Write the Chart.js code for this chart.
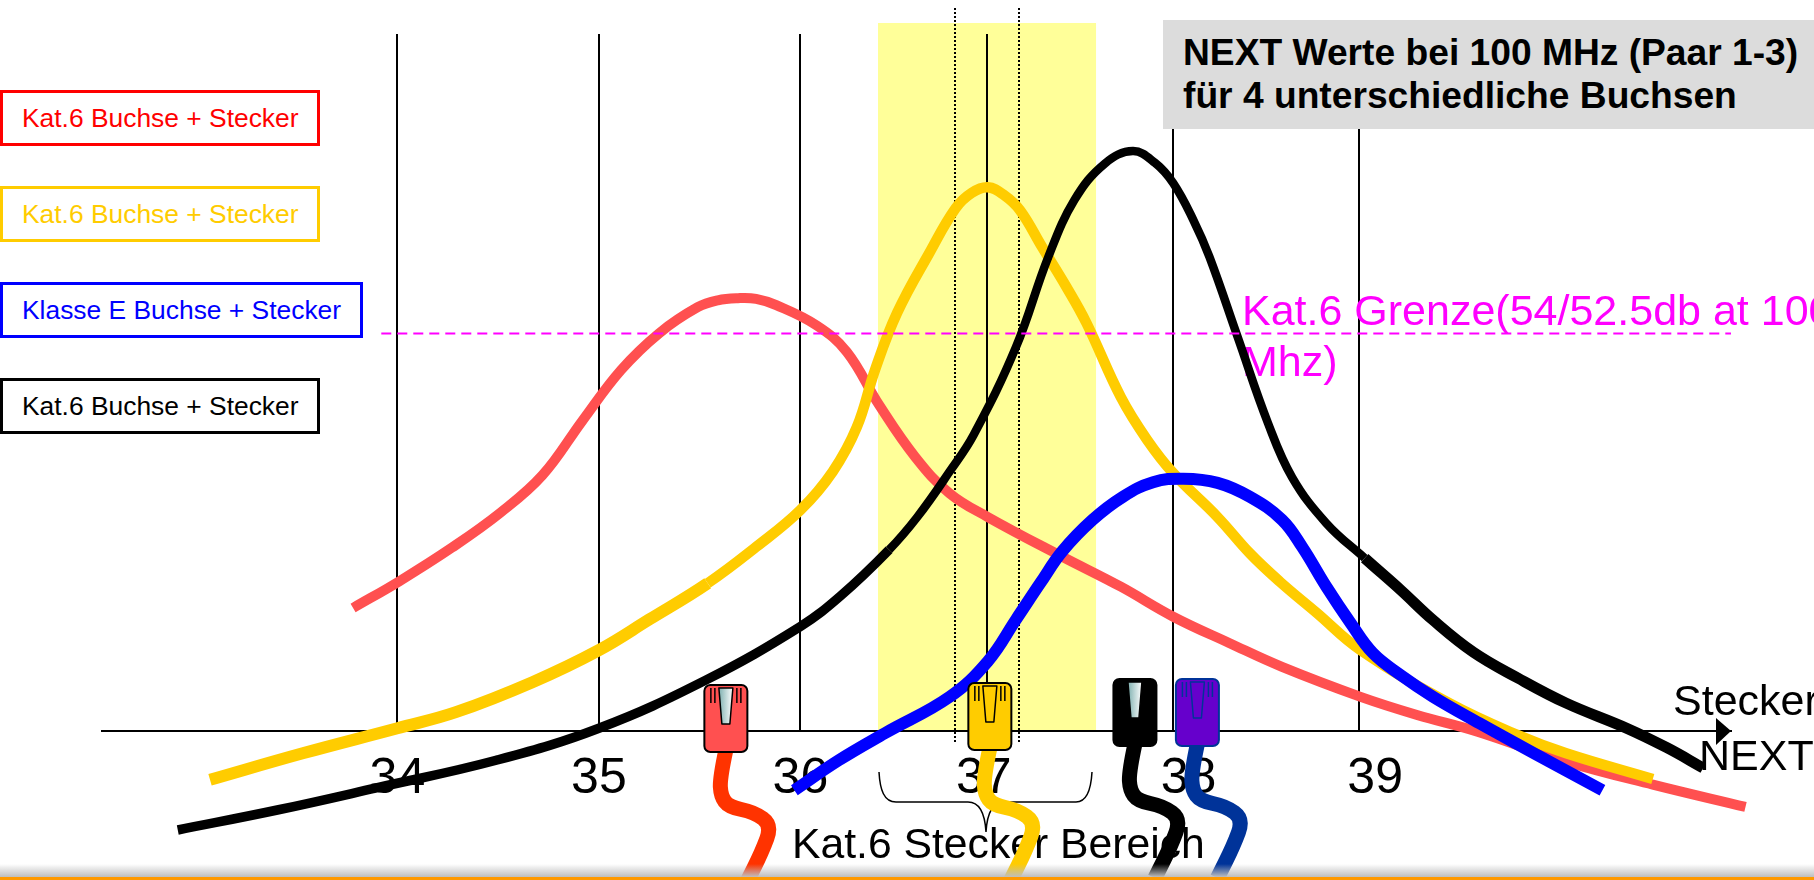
<!DOCTYPE html>
<html lang="de">
<head>
<meta charset="utf-8">
<title>NEXT Werte</title>
<script src="https://cdn.jsdelivr.net/npm/chart.js@4"></script>
<style>
  html, body { margin: 0; padding: 0; background: #fff; overflow: hidden; }
  #wrap { position: relative; width: 1814px; height: 880px; overflow: hidden; font-family: "Liberation Sans", Arial, sans-serif; }
  #myChart { position: absolute; left: 0; top: 0; }
  .legend-box { position: absolute; left: 0; height: 56px; box-sizing: border-box; border: 3px solid; padding-left: 19px; display: flex; align-items: center; font-size: 26.4px; background: #fff; white-space: nowrap; }
  #title-box { position: absolute; left: 1163px; top: 20px; width: 651px; height: 109px; box-sizing: border-box; background: #dcdcdc; padding: 11px 0 0 20px; font-weight: bold; font-size: 37.2px; line-height: 43px; color: #000; white-space: nowrap; }
</style>
</head>
<body>
<div id="wrap">
  <canvas id="myChart" width="1814" height="880"></canvas>
  <div id="title-box">NEXT Werte bei 100 MHz (Paar 1-3)<br>für 4 unterschiedliche Buchsen</div>
</div>
<script>
// tick labels + where they sit on the axis (the original slide is not evenly spaced)
const tickLabels = ["34", "35", "36", "37", "38", "39"];
const tickLabelValues = [34, 35, 36, 36.91, 37.926, 38.852];
const gridValues = [34, 35, 36, 36.926, 37.849, 38.772];

const seriesNames = ["Kat.6 Buchse + Stecker", "Kat.6 Buchse + Stecker", "Klasse E Buchse + Stecker", "Kat.6 Buchse + Stecker"];

const redX = [33.78, 34.01, 34.27, 34.51, 34.72, 34.92, 35.11, 35.30, 35.49, 35.59, 35.69, 35.78, 35.88, 36.08, 36.23, 36.39, 36.57, 36.74, 36.93, 37.30, 37.59, 37.85, 38.13, 38.39, 38.78, 39.06, 39.36, 39.80, 40.23, 40.69];
const redY = [17.65, 21.5, 26.3, 31.3, 36.7, 44.6, 51.8, 57.1, 60.8, 61.8, 62.1, 62.0, 61.1, 58.2, 54.4, 46.8, 39.3, 34.1, 30.7, 25.0, 20.7, 16.4, 12.6, 9.2, 4.9, 2.3, -0.1, -4.4, -7.7, -10.9];

const yellowX = [33.07, 33.53, 34.00, 34.29, 34.67, 35.00, 35.25, 35.54, 35.78, 36.00, 36.16, 36.28, 36.37, 36.48, 36.64, 36.77, 36.85, 36.93, 37.01, 37.09, 37.20, 37.32, 37.42, 37.59, 37.72, 37.85, 38.07, 38.23, 38.38, 38.56, 38.78, 39.22, 39.56, 39.80, 40.23];
const yellowY = [-7.0, -3.2, 0.4, 2.7, 7.0, 11.6, 16.0, 21.2, 26.4, 31.7, 37.2, 43.6, 51.8, 60.0, 68.6, 75.0, 77.2, 78.0, 76.9, 74.7, 69.4, 63.7, 58.5, 47.9, 41.8, 37.0, 30.7, 25.5, 21.4, 17.0, 11.6, 4.0, -0.6, -3.2, -6.9];

const blackX = [32.91, 33.41, 33.89, 34.49, 35.00, 35.53, 36.00, 36.20, 36.44, 36.58, 36.74, 36.86, 37.07, 37.23, 37.36, 37.51, 37.65, 37.76, 37.85, 37.95, 38.03, 38.17, 38.32, 38.44, 38.61, 38.80, 38.98, 39.14, 39.34, 39.56, 39.80, 40.10, 40.30, 40.48];
const blackY = [-14.2, -11.3, -8.2, -4.2, 0.4, 7.3, 15.0, 19.4, 26.0, 30.7, 37.2, 42.5, 55.1, 68.0, 76.2, 81.4, 83.2, 81.5, 78.6, 73.3, 68.0, 56.5, 44.2, 36.4, 29.8, 24.8, 20.2, 15.9, 11.3, 7.6, 4.0, 0.4, -2.4, -5.3];

const blueX = [35.97, 36.19, 36.42, 36.74, 36.93, 37.07, 37.19, 37.30, 37.45, 37.60, 37.75, 37.90, 38.07, 38.23, 38.39, 38.49, 38.61, 38.73, 38.84, 38.98, 39.14, 39.37, 39.64, 39.98];
const blueY = [-8.5, -4.2, -0.3, 4.9, 10.0, 16.0, 21.2, 25.8, 30.3, 33.6, 35.7, 36.2, 35.6, 33.6, 30.3, 26.4, 20.7, 15.5, 11.2, 8.0, 4.9, 1.1, -3.2, -8.5];

const limitX = [33.92, 40.618];
const limitY = [57.03, 57.03];

// Kat.6 plug range
const bandRange = [36.385, 37.467];
const dottedValues = [36.766, 37.084];

// connector icons
const plugValues = [35.63, 36.94, 37.66, 37.97];

const toPoints = (xs, ys) => xs.map((x, i) => ({ x: x, y: ys[i] }));

// the drawn curves change thickness where the slide's pieces were joined
const stepWidth = (breaks, widths) => (ctx) => {
  const i = breaks.findIndex((b) => ctx.p0.parsed.x < b);
  return widths[i < 0 ? widths.length - 1 : i];
};

const curve = (label, xs, ys, color, width, segmentWidth) => ({
  label: label,
  data: toPoints(xs, ys),
  borderColor: color,
  borderWidth: width,
  pointRadius: 0,
  tension: 0.4,
  borderCapStyle: "butt",
  clip: false,
  segment: segmentWidth ? { borderWidth: segmentWidth } : undefined,
});

// text that lies under the curves
const slideTexts = [
  { text: "Kat.6 Grenze(54/52.5db at 100", x: 1242, y: 325, size: 43, color: "#ff00ff" },
  { text: "Mhz)", x: 1242, y: 376, size: 43, color: "#ff00ff" },
  { text: "Kat.6 Stecker Bereich", x: 792, y: 858, size: 42.7, color: "#000" },
  { text: "Stecker", x: 1673, y: 715, size: 43, color: "#000" },
  { text: "NEXT", x: 1699, y: 770, size: 43, color: "#000" },
];

const underlay = {
  id: "underlay",
  beforeDraw(chart) {
    const { ctx, scales } = chart;
    const left = scales.x.getPixelForValue(bandRange[0]);
    const right = scales.x.getPixelForValue(bandRange[1]);
    ctx.save();
    ctx.fillStyle = "#ffff99";
    ctx.fillRect(left, 23, right - left, scales.y.getPixelForValue(0) - 23);
    ctx.restore();
  },
  beforeDatasetsDraw(chart) {
    const { ctx, scales } = chart;
    ctx.save();
    // dotted limits of the plug range
    ctx.strokeStyle = "#000";
    ctx.lineWidth = 2;
    ctx.setLineDash([2, 2]);
    dottedValues.forEach((v) => {
      const x = Math.round(scales.x.getPixelForValue(v));
      ctx.beginPath();
      ctx.moveTo(x, 8);
      ctx.lineTo(x, 742);
      ctx.stroke();
    });
    ctx.setLineDash([]);

    // arrow head of the axis
    ctx.fillStyle = "#000";
    ctx.beginPath();
    ctx.moveTo(1731, 731);
    ctx.lineTo(1716, 718);
    ctx.lineTo(1716, 745);
    ctx.closePath();
    ctx.fill();

    // brace under the axis
    ctx.lineWidth = 1.5;
    ctx.beginPath();
    ctx.moveTo(879, 772);
    ctx.bezierCurveTo(880, 790, 884, 802, 896, 802);
    ctx.lineTo(968, 802);
    ctx.bezierCurveTo(980, 802, 985, 815, 986, 832);
    ctx.bezierCurveTo(987, 815, 992, 802, 1004, 802);
    ctx.lineTo(1076, 802);
    ctx.bezierCurveTo(1086, 802, 1091, 790, 1092, 772);
    ctx.stroke();

    ctx.textBaseline = "alphabetic";
    ctx.textAlign = "left";
    slideTexts.forEach((t) => {
      ctx.font = t.size + 'px "Liberation Sans", Arial, sans-serif';
      ctx.fillStyle = t.color;
      ctx.fillText(t.text, t.x, t.y);
    });
    ctx.restore();
  },
};

const plugStyles = [
  { top: 685, body: "#ff5050", line: "#000", cable: "#ff3300", glass: true },
  { top: 683, body: "#ffcc00", line: "#000", cable: "#ffcc00", glass: false },
  { top: 679, body: "#000000", line: "#000", cable: "#000000", glass: true },
  { top: 679, body: "#6600cc", line: "#003399", cable: "#003399", glass: false },
];
// cable shape, measured from the bottom centre of a plug
const cableShape = [[0, 0], [-6, 26], [-5, 44], [3, 55], [28, 60], [46, 73], [36, 100], [20, 132]];

const drawPlug = (ctx, cx, style) => {
  const w = 43;
  const h = 67;
  const x = cx - w / 2;
  const bottom = style.top + h;

  // cable first, the plug sits on top of it
  ctx.strokeStyle = style.cable;
  ctx.lineWidth = 15;
  ctx.lineJoin = "round";
  ctx.beginPath();
  ctx.moveTo(cx, bottom - 2);
  for (let i = 1; i < cableShape.length - 1; i++) {
    const mx = (cableShape[i][0] + cableShape[i + 1][0]) / 2;
    const my = (cableShape[i][1] + cableShape[i + 1][1]) / 2;
    ctx.quadraticCurveTo(cx + cableShape[i][0], bottom + cableShape[i][1], cx + mx, bottom + my);
  }
  const last = cableShape[cableShape.length - 1];
  ctx.lineTo(cx + last[0], bottom + last[1]);
  ctx.stroke();

  ctx.fillStyle = style.body;
  ctx.strokeStyle = style.line;
  ctx.lineWidth = 2;
  ctx.beginPath();
  ctx.roundRect(x, style.top, w, h, 6);
  ctx.fill();
  ctx.stroke();

  // latch
  const glass = ctx.createLinearGradient(cx - 7, 0, cx + 7, 0);
  glass.addColorStop(0, "#7fb0b0");
  glass.addColorStop(1, "#ffffff");
  ctx.fillStyle = style.glass ? glass : style.body;
  ctx.strokeStyle = style.body === "#000000" ? "#000" : style.line;
  ctx.lineWidth = 1.5;
  ctx.beginPath();
  ctx.moveTo(cx - 7, style.top + 3);
  ctx.lineTo(cx + 7, style.top + 3);
  ctx.lineTo(cx + 4, style.top + 39);
  ctx.lineTo(cx - 4, style.top + 39);
  ctx.closePath();
  ctx.fill();
  ctx.stroke();

  // contact slits
  [-15, -11, 11, 15].forEach((d) => {
    ctx.beginPath();
    ctx.moveTo(cx + d, style.top + 3);
    ctx.lineTo(cx + d, style.top + 18);
    ctx.stroke();
  });
};

const overlay = {
  id: "overlay",
  afterDatasetsDraw(chart) {
    const { ctx, scales } = chart;
    ctx.save();
    plugValues.forEach((v, i) => drawPlug(ctx, scales.x.getPixelForValue(v), plugStyles[i]));

    // slide footer
    const shade = ctx.createLinearGradient(0, 864, 0, 877);
    shade.addColorStop(0, "rgba(190,190,190,0)");
    shade.addColorStop(1, "rgba(190,190,190,1)");
    ctx.fillStyle = shade;
    ctx.fillRect(0, 864, 1814, 13);
    ctx.fillStyle = "#ff9900";
    ctx.fillRect(0, 877, 1814, 3);
    ctx.restore();
  },
};

const myChart = new Chart(document.getElementById("myChart"), {
  type: "line",
  plugins: [underlay, overlay],
  data: {
    datasets: [
      {
        label: "Kat.6 Grenze",
        data: toPoints(limitX, limitY),
        borderColor: "#ff00ff",
        borderWidth: 2,
        borderDash: [10, 6],
        pointRadius: 0,
        tension: 0,
        clip: false,
      },
      curve(seriesNames[2], blueX, blueY, "#0000ff", 12),
      curve(seriesNames[3], blackX, blackY, "#000000", 9, stepWidth([36.44, 38.8], [9.5, 8.5, 11])),
      curve(seriesNames[1], yellowX, yellowY, "#ffcc00", 10.5, stepWidth([35.54], [12, 10.5])),
      curve(seriesNames[0], redX, redY, "#ff5050", 10),
    ],
  },
  options: {
    responsive: false,
    animation: false,
    layout: { padding: { left: 102, right: 83, top: 34, bottom: 0 } },
    plugins: { legend: { display: false }, tooltip: { enabled: false } },
    scales: {
      x: {
        type: "linear",
        min: 32.534,
        max: 40.618,
        weight: 0,
        afterFit: (scale) => { scale.height = 149; },
        afterBuildTicks: (scale) => { scale.ticks = tickLabelValues.map((v) => ({ value: v })); },
        grid: { display: false },
        border: { display: true, color: "#000", width: 2 },
        ticks: {
          autoSkip: false,
          maxRotation: 0,
          padding: 10,
          color: "#000",
          font: { family: '"Liberation Sans", Arial, sans-serif', size: 50 },
          callback: (value) => tickLabels[tickLabelValues.indexOf(value)],
        },
      },
      xGrid: {
        type: "linear",
        axis: "x",
        position: "bottom",
        min: 32.534,
        max: 40.618,
        weight: 1,
        afterFit: (scale) => { scale.height = 0; },
        afterBuildTicks: (scale) => { scale.ticks = gridValues.map((v) => ({ value: v })); },
        grid: { color: "#000", lineWidth: 2, drawTicks: false },
        border: { display: false },
        ticks: { display: false },
      },
      y: { display: false, min: 0, max: 100 },
    },
  },
});

// legend boxes on the left
const legendColors = ["#ff0000", "#ffcc00", "#0000ff", "#000000"];
const legendTops = [90, 186, 282, 378];
const legendWidths = [320, 320, 363, 320];
seriesNames.forEach((name, i) => {
  const box = document.createElement("div");
  box.className = "legend-box";
  box.textContent = name;
  box.style.top = legendTops[i] + "px";
  box.style.width = legendWidths[i] + "px";
  box.style.color = legendColors[i];
  box.style.borderColor = legendColors[i];
  document.getElementById("wrap").appendChild(box);
});
</script>
</body>
</html>
